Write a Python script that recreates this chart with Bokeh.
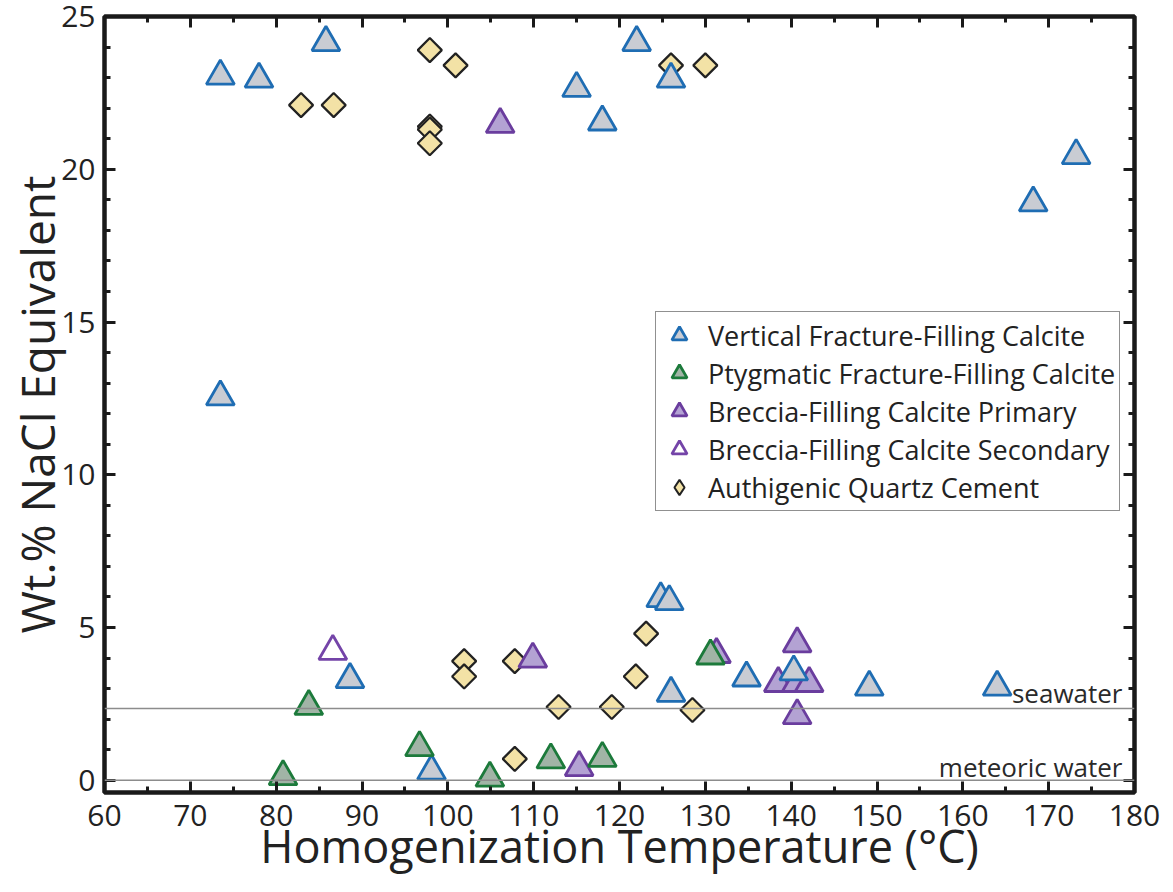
from bokeh.plotting import figure
from bokeh.models import (Range1d, LinearAxis, SingleIntervalTicker, Span, Label,
                          Legend, LegendItem)
from bokeh.embed import file_html
from bokeh.resources import INLINE
import math

# ---- data ----
vert_x = [73.5, 78.0, 85.8, 73.5, 115.0, 118.0, 122.0, 126.0, 124.8, 125.8, 126.0,
          134.8, 140.3, 149.1, 164.0, 168.2, 173.2, 88.6, 98.1]
vert_y = [23.05, 22.95, 24.15, 12.55, 22.65, 21.55, 24.15, 22.95, 5.95, 5.85, 2.85,
          3.35, 3.55, 3.05, 3.05, 18.9, 20.45, 3.3, 0.3]

ptyg_x = [80.8, 83.8, 96.7, 104.9, 112.0, 118.0, 130.6]
ptyg_y = [0.12, 2.42, 1.07, 0.07, 0.67, 0.72, 4.07]

prim_x = [106.1, 109.9, 115.3, 131.3, 140.7, 138.5, 140.6, 142.1, 140.7]
prim_y = [21.47, 3.97, 0.42, 4.12, 4.47, 3.17, 3.17, 3.17, 2.12]

sec_x = [86.6]
sec_y = [4.22]

qtz_x = [82.9, 86.7, 97.9, 100.9, 97.9, 97.9, 97.9, 126.0, 130.0,
         101.9, 101.9, 107.8, 107.8, 112.9, 119.1, 121.9, 123.1, 128.5]
qtz_y = [22.1, 22.1, 23.9, 23.4, 21.4, 21.3, 20.85, 23.4, 23.4,
         3.9, 3.4, 3.9, 0.7, 2.4, 2.4, 3.4, 4.8, 2.3]

seawater = 2.35
meteoric = 0.0

x_title = "Homogenization Temperature (°C)"
y_title = "Wt.% NaCl Equivalent"

X0, X1 = 60, 180
Y0, Y1 = -0.4, 25

FONT = "Open Sans"

p = figure(width=1172, height=891, output_backend="svg", toolbar_location=None,
           x_range=Range1d(X0, X1), y_range=Range1d(Y0, Y1),
           min_border_left=104, min_border_right=38, min_border_top=16, min_border_bottom=99)
p.xgrid.visible = False
p.ygrid.visible = False
p.outline_line_color = "#1a1a1a"
p.outline_line_width = 4.5
p.background_fill_color = "white"

xt = SingleIntervalTicker(interval=10, num_minor_ticks=2)
yt = SingleIntervalTicker(interval=5, num_minor_ticks=5)

def style(ax, labels=True):
    ax.axis_line_color = None
    ax.major_tick_in = 11
    ax.major_tick_out = 0
    ax.minor_tick_in = 6
    ax.minor_tick_out = 0
    ax.major_tick_line_width = 3
    ax.minor_tick_line_width = 3
    ax.major_tick_line_color = "#1a1a1a"
    ax.minor_tick_line_color = "#1a1a1a"
    if labels:
        ax.major_label_text_font = FONT
        ax.major_label_text_font_size = "30px"
        ax.major_label_text_color = "#222222"
        ax.axis_label_text_font = FONT
        ax.axis_label_text_font_style = "normal"
        ax.axis_label_text_color = "#222222"
    else:
        ax.major_label_text_font_size = "0px"
        ax.major_label_standoff = 0
        ax.axis_label = None

p.xaxis.ticker = xt
p.yaxis.ticker = yt
style(p.xaxis[0])
style(p.yaxis[0])
p.xaxis.axis_label = x_title
p.yaxis.axis_label = y_title
p.xaxis.axis_label_text_font_size = "45px"
p.yaxis.axis_label_text_font_size = "46px"
p.xaxis.major_label_standoff = 12
p.yaxis.major_label_standoff = 9
p.xaxis.axis_label_standoff = -14
p.yaxis.axis_label_standoff = -10

top = LinearAxis(ticker=SingleIntervalTicker(interval=10, num_minor_ticks=2))
style(top, labels=False)
p.add_layout(top, "above")
right = LinearAxis(ticker=SingleIntervalTicker(interval=5, num_minor_ticks=5))
style(right, labels=False)
p.add_layout(right, "right")

# reference lines
for loc in (seawater, meteoric):
    p.add_layout(Span(location=loc, dimension="width", line_color="#8c8c8c", line_width=1.6))

p.add_layout(Label(x=X1, y=seawater, x_offset=-12, y_offset=-3, text="seawater",
                   text_align="right", text_baseline="bottom", text_font=FONT,
                   text_font_size="26px", text_color="#2a2a2a"))
p.add_layout(Label(x=X1, y=meteoric, x_offset=-12, y_offset=-5, text="meteoric water",
                   text_align="right", text_baseline="bottom", text_font=FONT,
                   text_font_size="26px", text_color="#2a2a2a"))

TRI = 28
QFILL, QLINE = "#f3e2a6", "#222222"
r_qtz = p.scatter(qtz_x, qtz_y, marker="square", angle=math.pi / 4, size=17,
                  fill_color=QFILL, line_color=QLINE, line_width=2.2)
r_prim = p.scatter(prim_x, prim_y, marker="triangle", size=TRI,
                   fill_color="#b3a2d3", line_color="#6a3d9e", line_width=2.8)
r_vert = p.scatter(vert_x, vert_y, marker="triangle", size=TRI,
                   fill_color="#c9ccd3", line_color="#1f6db3", line_width=2.8)
r_ptyg = p.scatter(ptyg_x, ptyg_y, marker="triangle", size=TRI,
                   fill_color="#a1b4a6", line_color="#1c7a3b", line_width=2.8)
r_sec = p.scatter(sec_x, sec_y, marker="triangle", size=TRI,
                  fill_color="white", line_color="#7444a8", line_width=2.8)
# legend proxy for the quartz diamonds (legend glyphs ignore marker angle)
r_qtz_leg = p.scatter(qtz_x, qtz_y, marker="diamond", size=24,
                      fill_color=QFILL, line_color=QLINE, line_width=2.0, visible=False)

legend = Legend(items=[
    LegendItem(label="Vertical Fracture-Filling Calcite", renderers=[r_vert]),
    LegendItem(label="Ptygmatic Fracture-Filling Calcite", renderers=[r_ptyg]),
    LegendItem(label="Breccia-Filling Calcite Primary", renderers=[r_prim]),
    LegendItem(label="Breccia-Filling Calcite Secondary", renderers=[r_sec]),
    LegendItem(label="Authigenic Quartz Cement", renderers=[r_qtz_leg]),
], location=(551, 281))
legend.label_text_font = FONT
legend.label_text_font_size = "27px"
legend.label_text_color = "#222222"
legend.glyph_width = 38
legend.glyph_height = 38
legend.label_height = 38
legend.spacing = 0
legend.padding = 4
legend.margin = 0
legend.label_standoff = 10
legend.border_line_color = "#222222"
legend.border_line_width = 1.6
legend.background_fill_color = "white"
legend.background_fill_alpha = 1
p.add_layout(legend, "center")

open("out.html", "w").write(file_html(p, INLINE))
